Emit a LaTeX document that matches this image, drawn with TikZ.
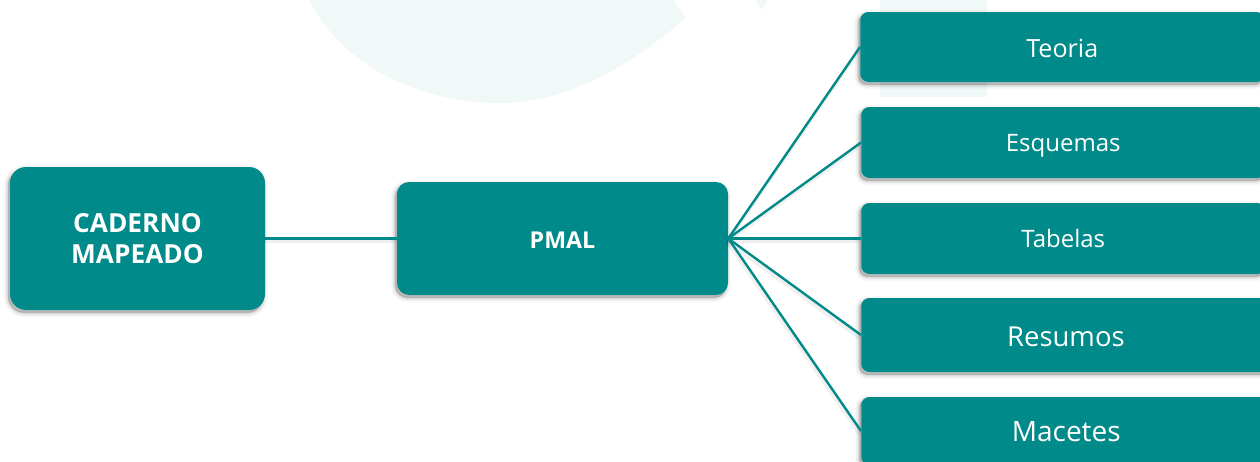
\documentclass[tikz,border=0pt]{standalone}
\usepackage{fontspec}
\setmainfont{Open Sans}
\definecolor{tealbox}{HTML}{008A8A}
\definecolor{wash}{HTML}{F1F9F8}
\tikzset{
  x=0.75pt,y=-0.75pt,
  softshadow/.style={
    preaction={draw=black,fill=black,opacity=.025,line width=7pt,transform canvas={shift={(-1.3pt,-2pt)}}},
    preaction={draw=black,fill=black,opacity=.03,line width=5pt,transform canvas={shift={(-1.3pt,-2pt)}}},
    preaction={draw=black,fill=black,opacity=.04,line width=3.4pt,transform canvas={shift={(-1.3pt,-2pt)}}},
    preaction={draw=black,fill=black,opacity=.05,line width=2pt,transform canvas={shift={(-1.3pt,-2pt)}}},
    preaction={draw=black,fill=black,opacity=.06,line width=.8pt,transform canvas={shift={(-1.3pt,-2pt)}}}},
  mainbox/.style={softshadow,fill=tealbox,text=white,rounded corners=#1,inner sep=0pt,align=center},
  leaf/.style={mainbox=6pt,anchor=west},
  baseline drop/.style={text height=#1,text depth=0pt},
  link/.style={draw=tealbox,line width=1.8pt},
  linkshade/.style={draw=black,opacity=.06,line width=3pt,transform canvas={shift={(-.8pt,-2.2pt)}}},
}
\begin{document}
\begin{tikzpicture}
\useasboundingbox (0,0) rectangle (1260,461);
\clip (0,0) rectangle (1260,461);
\fill[wash] (309,0) .. controls (345,70) and (425,103) .. (500,103)
  .. controls (565,103) and (625,70) .. (686,18) -- (673,0) -- cycle;
\fill[wash] (755,0) -- (768,0) -- (761,10) -- cycle;
\fill[wash] (880,0) rectangle (987,97);

\node[mainbox=12pt,minimum width=191.25pt,minimum height=107.25pt,font=\bfseries\fontsize{19.7}{23.4}\selectfont] (cad) at (137.5,238.5) {CADERNO\\MAPEADO};
\node[mainbox=9pt,minimum width=248.25pt,minimum height=84.75pt,baseline drop=14.7pt,font=\bfseries\fontsize{17.4}{20}\selectfont] (pmal) at (562.5,238.5) {PMAL};
\node[leaf,minimum width=303pt,minimum height=52.5pt,baseline drop=15pt,font=\fontsize{18.8}{22}\selectfont] (teo) at (860,47) {Teoria};
\node[leaf,minimum width=303pt,minimum height=53.25pt,baseline drop=13.5pt,font=\fontsize{18}{22}\selectfont] (esq) at (861,142.5) {Esquemas};
\node[leaf,minimum width=303pt,minimum height=53.25pt,font=\fontsize{18}{22}\selectfont] (tab) at (861,238.5) {Tabelas};
\node[leaf,minimum width=307pt,minimum height=55.5pt,baseline drop=16.5pt,font=\fontsize{20.6}{25}\selectfont] (res) at (861,335) {Resumos};
\node[leaf,minimum width=307.5pt,minimum height=51pt,baseline drop=15pt,font=\fontsize{21}{25}\selectfont] (mac) at (861,431) {Macetes};

\foreach \t in {teo,esq,tab,res,mac}{\draw[linkshade] (pmal.east) -- (\t.west);}
\draw[linkshade] (cad.east) -- (pmal.west);
\draw[link] (cad.east) -- (pmal.west);
\foreach \t in {teo,esq,tab,res,mac}{\draw[link] (pmal.east) -- (\t.west);}
\end{tikzpicture}
\end{document}
